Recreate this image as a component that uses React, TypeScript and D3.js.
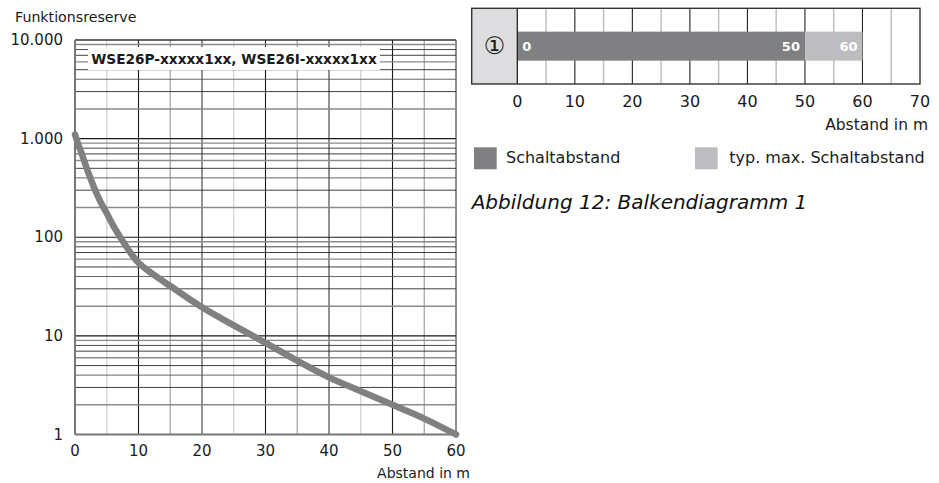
import React from "react";
import * as d3 from "d3";

// Left chart: Funktionsreserve vs Abstand
const distances = [0, 0.5, 1, 2, 3, 4, 5, 6, 7, 8, 9, 10, 11, 12, 15, 20, 25, 30, 35, 40, 45, 50, 55, 60];
const reserve = [1100, 880, 720, 470, 320, 230, 175, 132, 103, 82, 66, 55, 48.5, 43.5, 32, 19.5, 12.8, 8.5, 5.6, 3.8, 2.75, 2.0, 1.45, 1.0];
const xTicksLeft = [0, 10, 20, 30, 40, 50, 60];
const yTicksLeft = [1, 10, 100, 1000, 10000];
const yTickLabels = ["1", "10", "100", "1.000", "10.000"];
const modelLabel = "WSE26P-xxxxx1xx, WSE26I-xxxxx1xx";

// Right chart: bar diagram
const barCategories = ["①"];
const schaltabstand = [50];
const typMaxSchaltabstand = [60];
const xTicksRight = [0, 10, 20, 30, 40, 50, 60, 70];
const legendLabels = ["Schaltabstand", "typ. max. Schaltabstand"];

const FONT = "'DejaVu Sans', Verdana, sans-serif";
const DARK = "#808083";
const LIGHT = "#bdbdc0";

export default function App() {
  // left scales
  const x = d3.scaleLinear().domain([0, 60]).range([75, 456]);
  const y = d3.scaleLog().domain([1, 10000]).range([434.5, 40]);
  const line = d3
    .line<number>()
    .x((_, i) => x(distances[i]))
    .y((d) => y(d))
    .curve(d3.curveMonotoneX);

  // gridlines
  const vLines: { v: number; color: string; w: number }[] = [];
  for (let v = 5; v <= 60; v += 5) {
    let color: string;
    let w = 1.2;
    if (v % 10 === 0) {
      color = (v / 10) % 2 === 1 ? "#1a1a1a" : "#777";
      w = (v / 10) % 2 === 1 ? 1.1 : 1.6;
    } else {
      color = ((v - 5) / 10) % 2 === 0 ? "#cfcfcf" : "#a0a0a0";
    }
    vLines.push({ v, color, w });
  }
  const hLines: { v: number; color: string; w: number }[] = [];
  const minorColor: Record<number, string> = {
    2: "#8a8a8a",
    3: "#2a2a2a",
    4: "#555",
    5: "#2a2a2a",
    6: "#8a8a8a",
    7: "#2a2a2a",
    8: "#333",
    9: "#8a8a8a",
  };
  for (let dec = 1; dec < 10000; dec *= 10) {
    hLines.push({ v: dec, color: "#1a1a1a", w: 1.1 });
    for (let m = 2; m <= 9; m++) {
      hLines.push({ v: dec * m, color: minorColor[m], w: minorColor[m] === "#8a8a8a" ? 1.4 : 0.9 });
    }
  }
  hLines.push({ v: 10000, color: "#333", w: 1.3 });

  // right scales
  const xb = d3.scaleLinear().domain([0, 70]).range([517.3, 920]);
  const boxTop = 8.3;
  const boxBottom = 84;
  const boxLeft = 471.7;
  const band = d3.scaleBand().domain(barCategories).range([boxTop, boxBottom]).paddingInner(0).paddingOuter(0.805);

  return (
    <svg
      width={939}
      height={483}
      style={{ position: "absolute", left: 0, top: 0, background: "#fff" }}
      fontFamily={FONT}
    >
      <rect x={0} y={0} width={939} height={483} fill="#fff" />
      {/* ===== LEFT CHART ===== */}
      <text x={15} y={22} fontSize={14.2} fill="#1a1a1a">
        Funktionsreserve
      </text>
      {vLines.map((l) => (
        <line key={"v" + l.v} x1={x(l.v)} x2={x(l.v)} y1={y(10000)} y2={y(1)} stroke={l.color} strokeWidth={l.w} />
      ))}
      {hLines.map((l, i) => (
        <line key={"h" + i} x1={x(0)} x2={x(60)} y1={y(l.v)} y2={y(l.v)} stroke={l.color} strokeWidth={l.w} />
      ))}
      {/* axes */}
      <line x1={x(0)} x2={x(0)} y1={y(10000)} y2={y(1)} stroke="#777" strokeWidth={2} />
      <line x1={x(0)} x2={x(60)} y1={y(1)} y2={y(1)} stroke="#777" strokeWidth={2} />
      {/* label box */}
      <rect x={88} y={47} width={292} height={23} fill="#fff" />
      <text x={234} y={58.5} fontSize={13.7} fontWeight="bold" textAnchor="middle" dominantBaseline="central" fill="#1a1a1a">
        {modelLabel}
      </text>
      {/* curve */}
      <path d={line(reserve) || ""} fill="none" stroke={DARK} strokeWidth={6.5} strokeLinecap="round" />
      {/* tick labels */}
      {yTicksLeft.map((t, i) => (
        <text key={"yt" + t} x={63} y={y(t)} fontSize={15} textAnchor="end" dominantBaseline="central" fill="#1a1a1a">
          {yTickLabels[i]}
        </text>
      ))}
      {xTicksLeft.map((t) => (
        <text key={"xt" + t} x={x(t)} y={451} fontSize={15} textAnchor="middle" dominantBaseline="central" fill="#1a1a1a">
          {t}
        </text>
      ))}
      <text x={470} y={473} fontSize={14} textAnchor="end" dominantBaseline="central" fill="#1a1a1a">
        Abstand in m
      </text>

      {/* ===== RIGHT CHART ===== */}
      <rect x={boxLeft} y={boxTop} width={xb(0) - boxLeft} height={boxBottom - boxTop} fill="#dddddf" />
      {d3.range(5, 70, 5).map((v) => (
        <line
          key={"bv" + v}
          x1={xb(v)}
          x2={xb(v)}
          y1={boxTop}
          y2={boxBottom}
          stroke={v % 10 === 0 ? "#222" : "#c0c0c0"}
          strokeWidth={v % 10 === 0 ? 1.1 : 1.5}
        />
      ))}
      {barCategories.map((c, i) => (
        <g key={c}>
          <rect
            x={xb(schaltabstand[i])}
            y={band(c)}
            width={xb(typMaxSchaltabstand[i]) - xb(schaltabstand[i])}
            height={band.bandwidth()}
            fill={LIGHT}
          />
          <rect x={xb(0)} y={band(c)} width={xb(schaltabstand[i]) - xb(0)} height={band.bandwidth()} fill={DARK} />
          <text
            x={xb(0) + 5}
            y={(band(c) as number) + band.bandwidth() / 2}
            fontSize={13}
            fontWeight="bold"
            fill="#fff"
            dominantBaseline="central"
          >
            0
          </text>
          <text
            x={xb(schaltabstand[i]) - 5}
            y={(band(c) as number) + band.bandwidth() / 2}
            fontSize={13}
            fontWeight="bold"
            fill="#fff"
            textAnchor="end"
            dominantBaseline="central"
          >
            {schaltabstand[i]}
          </text>
          <text
            x={xb(typMaxSchaltabstand[i]) - 5}
            y={(band(c) as number) + band.bandwidth() / 2}
            fontSize={13}
            fontWeight="bold"
            fill="#fff"
            textAnchor="end"
            dominantBaseline="central"
          >
            {typMaxSchaltabstand[i]}
          </text>
          <text
            x={(boxLeft + xb(0)) / 2}
            y={(band(c) as number) + band.bandwidth() / 2}
            fontSize={24}
            textAnchor="middle"
            dominantBaseline="central"
            fill="#1a1a1a"
          >
            {c}
          </text>
        </g>
      ))}
      <line x1={xb(0)} x2={xb(0)} y1={boxTop} y2={boxBottom} stroke="#222" strokeWidth={1.3} />
      <rect
        x={boxLeft}
        y={boxTop}
        width={xb(70) - boxLeft}
        height={boxBottom - boxTop}
        fill="none"
        stroke="#333"
        strokeWidth={1.4}
      />
      {xTicksRight.map((t) => (
        <text key={"bt" + t} x={xb(t)} y={101} fontSize={16} textAnchor="middle" dominantBaseline="central" fill="#1a1a1a">
          {t}
        </text>
      ))}
      <text x={928} y={125} fontSize={15.5} textAnchor="end" dominantBaseline="central" fill="#1a1a1a">
        Abstand in m
      </text>

      {/* legend */}
      <rect x={474} y={147.3} width={22.7} height={22} fill={DARK} />
      <text x={506} y={157} fontSize={16} dominantBaseline="central" fill="#1a1a1a">
        {legendLabels[0]}
      </text>
      <rect x={695} y={147.3} width={22.7} height={22} fill={LIGHT} />
      <text x={729.3} y={157} fontSize={16} dominantBaseline="central" fill="#1a1a1a">
        {legendLabels[1]}
      </text>
      <text x={471.7} y={201.5} fontSize={20} fontStyle="italic" dominantBaseline="central" fill="#111">
        Abbildung 12: Balkendiagramm 1
      </text>
    </svg>
  );
}
